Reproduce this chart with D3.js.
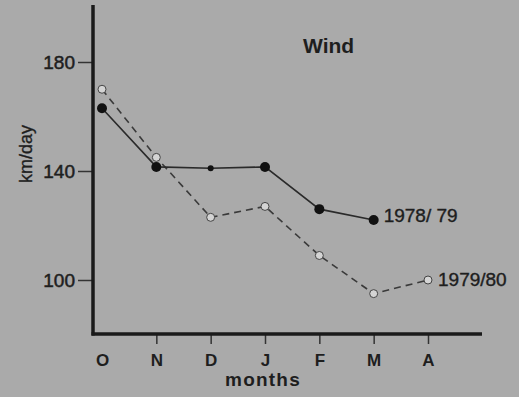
<!DOCTYPE html>
<html>
<head>
<meta charset="utf-8">
<script src="https://cdn.jsdelivr.net/npm/d3@7"></script>
<style>
  html, body { margin: 0; padding: 0; background: #aaaaaa; }
  svg { display: block; }
  text { font-family: "Liberation Sans", Arial, sans-serif; fill: #1e1e1e; }
</style>
</head>
<body>
<svg id="chart" width="519" height="397"></svg>
<script>
// Monthly wind run, October to April
const months = ["O", "N", "D", "J", "F", "M", "A"];
const season7879 = [163, 141.5, 141, 141.5, 126, 122, null];
const season7980 = [170, 145, 123, 127, 109, 95, 100];
const yTicks = [100, 140, 180];
const seriesNames = ["1978/ 79", "1979/80"];

const svg = d3.select("#chart");
const W = 519, H = 397;

svg.append("rect").attr("width", W).attr("height", H).attr("fill", "#aaaaaa");

const x = d3.scalePoint().domain(months).range([102, 428]);
const y = d3.scaleLinear().domain([80, 200]).range([334.5, 7.5]);

const axisX0 = 93;
const axisY0 = 334;

// Y axis: ticks drawn outside on the left
const yAxis = d3.axisLeft(y).tickValues(yTicks).tickSize(15).tickPadding(3);
const gy = svg.append("g").attr("transform", `translate(${axisX0},0)`).call(yAxis);
gy.select(".domain").remove();
gy.selectAll(".tick line").attr("stroke", "#333").attr("stroke-width", 1.5);
gy.selectAll(".tick text").attr("font-size", 19).attr("fill", "#1e1e1e")
  .attr("stroke", "#1e1e1e").attr("stroke-width", 0.5).attr("dy", "0.36em");

// X axis: short ticks below the baseline
const xAxis = d3.axisBottom(x).tickSize(10).tickPadding(10);
const gx = svg.append("g").attr("transform", `translate(0,${axisY0})`).call(xAxis);
gx.select(".domain").remove();
gx.selectAll(".tick line").attr("stroke", "#333").attr("stroke-width", 1.5)
  .attr("display", (d, i) => i === 0 ? "none" : null);
gx.selectAll(".tick text").attr("font-size", 17).attr("font-weight", "bold").attr("fill", "#1e1e1e");

// Axis lines
svg.append("line").attr("x1", axisX0).attr("x2", axisX0).attr("y1", 5).attr("y2", axisY0 + 1.5)
  .attr("stroke", "#1a1a1a").attr("stroke-width", 3.5);
svg.append("line").attr("x1", axisX0 - 1.5).attr("x2", 482).attr("y1", axisY0).attr("y2", axisY0)
  .attr("stroke", "#1a1a1a").attr("stroke-width", 3.5);

// Axis titles
svg.append("text").attr("x", 263).attr("y", 386).attr("text-anchor", "middle")
  .attr("font-size", 19).attr("font-weight", "bold").attr("letter-spacing", 1.2).text("months");
svg.append("text").attr("transform", "translate(32,154) rotate(-90)").attr("text-anchor", "middle")
  .attr("font-size", 18).attr("stroke", "#1e1e1e").attr("stroke-width", 0.3).text("km/day");
svg.append("text").attr("x", 303).attr("y", 53)
  .attr("font-size", 21).attr("font-weight", "bold").text("Wind");

const line = d3.line()
  .defined(d => d.v != null)
  .x(d => x(d.m)).y(d => y(d.v));

const pts7980 = months.map((m, i) => ({ m, v: season7980[i] })).filter(d => d.v != null);
const pts7879 = months.map((m, i) => ({ m, v: season7879[i] })).filter(d => d.v != null);

// 1979/80: dashed line with open circles
svg.append("path").datum(pts7980).attr("d", line)
  .attr("fill", "none").attr("stroke", "#3a3a3a").attr("stroke-width", 1.6)
  .attr("stroke-dasharray", "7,5");
svg.selectAll("circle.open").data(pts7980).join("circle").attr("class", "open")
  .attr("cx", d => x(d.m)).attr("cy", d => y(d.v)).attr("r", 4)
  .attr("fill", "#d4d4d4").attr("stroke", "#444").attr("stroke-width", 1);

// 1978/79: solid line with filled dots
svg.append("path").datum(pts7879).attr("d", line)
  .attr("fill", "none").attr("stroke", "#2a2a2a").attr("stroke-width", 1.6);
svg.selectAll("circle.fill").data(pts7879).join("circle").attr("class", "fill")
  .attr("cx", d => x(d.m)).attr("cy", d => y(d.v))
  .attr("r", (d, i) => i === 2 ? 3 : 5)
  .attr("fill", "#111");

// Series labels at the last point of each line
const last7879 = pts7879[pts7879.length - 1];
const last7980 = pts7980[pts7980.length - 1];
svg.append("text").attr("x", x(last7879.m) + 10).attr("y", y(last7879.v) + 2)
  .attr("font-size", 19).attr("stroke", "#1e1e1e").attr("stroke-width", 0.4).text(seriesNames[0]);
svg.append("text").attr("x", x(last7980.m) + 10).attr("y", y(last7980.v) + 6)
  .attr("font-size", 19).attr("stroke", "#1e1e1e").attr("stroke-width", 0.4).text(seriesNames[1]);
</script>
</body>
</html>
